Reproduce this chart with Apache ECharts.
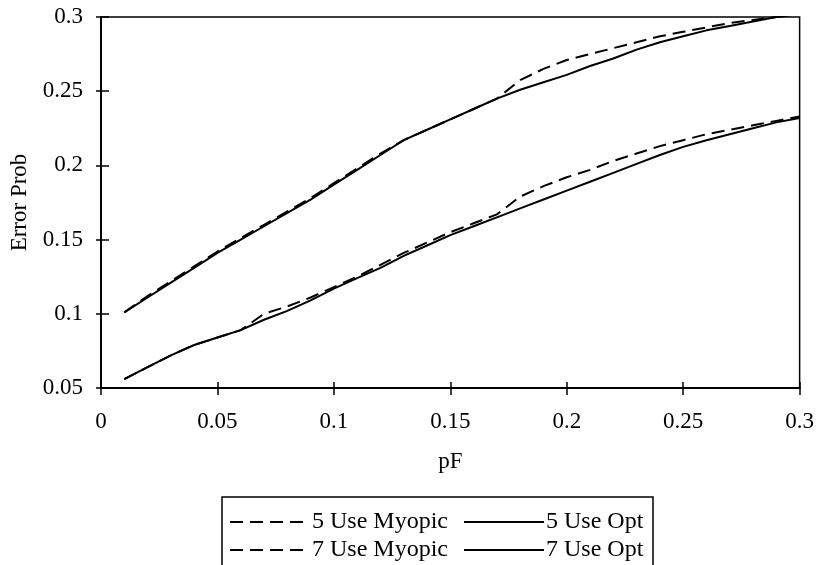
<!DOCTYPE html>
<html>
<head>
<meta charset="utf-8">
<script src="https://cdn.jsdelivr.net/npm/echarts@6/dist/echarts.min.js"></script>
<style>html,body{margin:0;padding:0;background:#fff}#c{width:817px;height:565px}</style>
</head>
<body>
<div id="c"></div>
<script>
const pF = [0.01,0.02,0.03,0.04,0.05,0.06,0.07,0.08,0.09,0.10,0.11,0.12,0.13,0.14,0.15,0.16,0.17,0.18,0.19,0.20,0.21,0.22,0.23,0.24,0.25,0.26,0.27,0.28,0.29,0.30];
const use5Myopic = [0.101,0.112,0.122,0.132,0.142,0.151,0.160,0.169,0.178,0.188,0.198,0.208,0.217,0.224,0.231,0.238,0.245,0.2575,0.265,0.271,0.275,0.279,0.283,0.287,0.290,0.293,0.296,0.298,0.300,0.302];
const use5Opt    = [0.101,0.111,0.121,0.131,0.141,0.150,0.159,0.168,0.177,0.187,0.197,0.207,0.217,0.224,0.231,0.238,0.245,0.251,0.256,0.261,0.267,0.272,0.278,0.283,0.287,0.291,0.294,0.297,0.300,0.302];
const use7Myopic = [0.056,0.064,0.072,0.079,0.084,0.089,0.100,0.105,0.111,0.118,0.125,0.133,0.141,0.148,0.155,0.161,0.167,0.179,0.186,0.192,0.197,0.203,0.208,0.213,0.217,0.221,0.224,0.227,0.230,0.233];
const use7Opt    = [0.056,0.064,0.072,0.079,0.084,0.089,0.096,0.102,0.109,0.117,0.124,0.131,0.139,0.146,0.153,0.159,0.165,0.171,0.177,0.183,0.189,0.195,0.201,0.207,0.2125,0.217,0.221,0.225,0.229,0.232];
const xTicks = ['0','0.05','0.1','0.15','0.2','0.25','0.3'];
const yTicks = ['0.05','0.1','0.15','0.2','0.25','0.3'];

const font = 'Liberation Serif';
const fs = 23;
const pair = (ys) => pF.map((x, i) => [x, ys[i]]);
const chart = echarts.init(document.getElementById('c'), null, {renderer: 'canvas'});
const dash = [13, 7];
const mk = (name, ys, dashed) => ({
  name, type: 'line', data: pair(ys), symbol: 'none', smooth: false,
  lineStyle: {color: '#000', width: 2, type: dashed ? dash : 'solid'},
  itemStyle: {color: '#000'}, z: dashed ? 3 : 2
});
const legendCommon = {
  left: 224, orient: 'horizontal',
  itemWidth: 80, itemHeight: 14, itemGap: 15,
  itemStyle: {opacity: 0},
  textStyle: {fontFamily: font, fontSize: 24, color: '#000', padding: [0, 0, 0, -3]}
};
chart.setOption({
  animation: false,
  backgroundColor: '#fff',
  grid: {left: 101, right: 17, top: 17, bottom: 177, show: true, borderColor: '#000', borderWidth: 1.5},
  xAxis: [{
    type: 'value', min: 0, max: 0.3, interval: 0.05,
    name: 'pF', nameLocation: 'middle', nameGap: 62,
    nameTextStyle: {fontFamily: font, fontSize: fs, color: '#000'},
    axisLine: {show: true, lineStyle: {color: '#000', width: 2}},
    axisTick: {show: true, length: 7, lineStyle: {color: '#000', width: 1.5}},
    axisLabel: {fontFamily: font, fontSize: fs, color: '#000', margin: 22, formatter: (v) => xTicks[Math.round(v / 0.05)]},
    splitLine: {show: false}
  }, {
    type: 'value', min: 0, max: 0.3, interval: 0.05, position: 'bottom',
    axisLine: {show: false},
    axisTick: {show: true, inside: true, length: 6, lineStyle: {color: '#000', width: 1.5}},
    axisLabel: {show: false}, splitLine: {show: false}
  }],
  yAxis: [{
    type: 'value', min: 0.05, max: 0.3, interval: 0.05,
    name: 'Error Prob', nameLocation: 'middle', nameGap: 64, nameRotate: 90,
    nameTextStyle: {fontFamily: font, fontSize: fs, color: '#000'},
    axisLine: {show: true, lineStyle: {color: '#000', width: 2}},
    axisTick: {show: true, length: 5, lineStyle: {color: '#000', width: 1.5}},
    axisLabel: {fontFamily: font, fontSize: fs, color: '#000', margin: 18, formatter: (v) => yTicks[Math.round((v - 0.05) / 0.05)]},
    splitLine: {show: false}
  }, {
    type: 'value', min: 0.05, max: 0.3, interval: 0.05, position: 'left',
    axisLine: {show: false},
    axisTick: {show: true, inside: true, length: 8, lineStyle: {color: '#000', width: 1.5}},
    axisLabel: {show: false}, splitLine: {show: false}
  }],
  legend: [
    Object.assign({top: 505, data: ['5 Use Myopic', '5 Use Opt']}, legendCommon),
    Object.assign({top: 533, data: ['7 Use Myopic', '7 Use Opt']}, legendCommon)
  ],
  graphic: [{
    type: 'rect', shape: {x: 222, y: 497, width: 431, height: 80},
    style: {fill: 'none', stroke: '#000', lineWidth: 1.5}, silent: true
  }],
  series: [
    mk('5 Use Myopic', use5Myopic, true),
    mk('5 Use Opt', use5Opt, false),
    mk('7 Use Myopic', use7Myopic, true),
    mk('7 Use Opt', use7Opt, false)
  ]
});
</script>
</body>
</html>
